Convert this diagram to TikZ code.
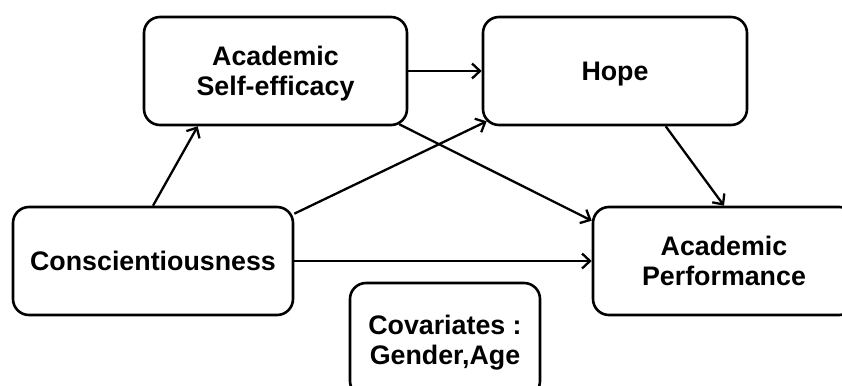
\documentclass[tikz,border=0pt]{standalone}
\usepackage{fontspec}
\setmainfont{Liberation Sans}
\usetikzlibrary{arrows.meta,calc}
\tikzset{
  box/.style={draw=black, line width=2.6pt, rounded corners=16pt, align=center,
    font=\bfseries\fontsize{26.8}{30}\selectfont, inner sep=0pt, text depth=0pt, fill=white},
  link/.style={draw=black, line width=2.3pt, -{Straight Barb[length=8pt,width=15pt,line width=2.3pt]}},
}
\begin{document}
\begin{tikzpicture}[x=1pt,y=-1pt]
\useasboundingbox (0,0) rectangle (842,385);
\node[box, minimum width=263pt, minimum height=108pt] (ase) at (275.5,71) {Academic\\Self-efficacy};
\node[box, minimum width=264pt, minimum height=108pt] (hope) at (615,71) {Hope};
\node[box, minimum width=280pt, minimum height=108pt] (consc) at (153,261) {Conscientiousness};
\node[box, minimum width=262pt, minimum height=108pt] (ap) at (724,261) {Academic\\Performance};
\node[box, minimum width=190pt, minimum height=114pt] (cov) at (445,340) {Covariates :\\Gender,Age};
\draw[link] (consc.north) -- ([xshift=55pt]ase.south west);
\draw[link] ([yshift=-8pt]consc.north east) -- ([xshift=5pt,yshift=5pt]hope.south west);
\draw[link] ([xshift=-9pt,yshift=2pt]ase.south east) -- ([yshift=-15pt]ap.north west);
\draw[link] (ase.east) -- (hope.west);
\draw[link] ([xshift=184pt]hope.south west) -- (ap.north);
\draw[link] (consc.east) -- (ap.west);
\end{tikzpicture}
\end{document}
